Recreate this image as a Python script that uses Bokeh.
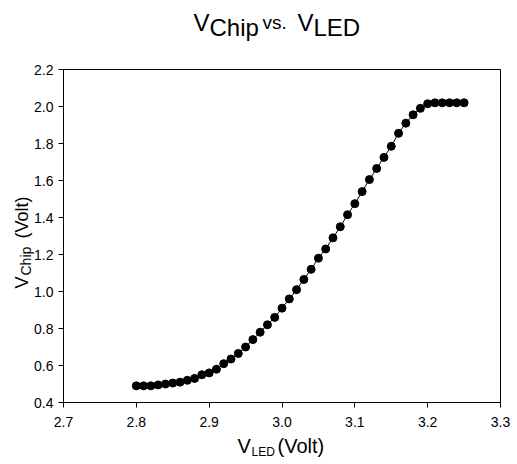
import math
from bokeh.plotting import figure
from bokeh.models import Range1d, FixedTicker, PrintfTickFormatter, Label
from bokeh.embed import file_html
from bokeh.resources import INLINE

# ---- data ----
v_led = [2.80, 2.81, 2.82, 2.83, 2.84, 2.85, 2.86, 2.87, 2.88, 2.89,
         2.90, 2.91, 2.92, 2.93, 2.94, 2.95, 2.96, 2.97, 2.98, 2.99,
         3.00, 3.01, 3.02, 3.03, 3.04, 3.05, 3.06, 3.07, 3.08, 3.09,
         3.10, 3.11, 3.12, 3.13, 3.14, 3.15, 3.16, 3.17, 3.18, 3.19,
         3.20, 3.21, 3.22, 3.23, 3.24, 3.25]
v_chip = [0.490, 0.490, 0.490, 0.495, 0.500, 0.505, 0.510, 0.520, 0.530, 0.550,
          0.560, 0.580, 0.610, 0.635, 0.665, 0.700, 0.740, 0.780, 0.820, 0.860,
          0.910, 0.960, 1.010, 1.065, 1.120, 1.180, 1.230, 1.290, 1.350, 1.415,
          1.475, 1.540, 1.605, 1.665, 1.725, 1.785, 1.855, 1.910, 1.955, 1.990,
          2.015, 2.020, 2.020, 2.020, 2.020, 2.020]
x_ticks = [2.7, 2.8, 2.9, 3.0, 3.1, 3.2, 3.3]
y_ticks = [0.4, 0.6, 0.8, 1.0, 1.2, 1.4, 1.6, 1.8, 2.0, 2.2]

FONT = "Liberation Sans"
W, H = 517, 464
# pixel box of the data area inside the canvas
BL, BR, BT, BB = 63, 500, 69, 402

x0, x1 = x_ticks[0], x_ticks[-1]
y0, y1 = y_ticks[0], y_ticks[-1]
kx = (x1 - x0) / (BR - BL)
ky = (y1 - y0) / (BB - BT)

p = figure(width=W, height=H, output_backend="svg", toolbar_location=None,
           x_range=Range1d(x0 - BL * kx, x1 + (W - BR) * kx),
           y_range=Range1d(y0 - (H - BB) * ky, y1 + BT * ky),
           min_border=0)

p.background_fill_color = "white"
p.border_fill_color = "white"
p.outline_line_color = None
p.xgrid.visible = False
p.ygrid.visible = False

for ax, ticks, loc in ((p.xaxis[0], x_ticks, y0), (p.yaxis[0], y_ticks, x0)):
    ax.fixed_location = loc
    ax.bounds = (ticks[0], ticks[-1])
    ax.ticker = FixedTicker(ticks=ticks)
    ax.formatter = PrintfTickFormatter(format="%.1f")
    ax.axis_line_color = "black"
    ax.axis_line_width = 1
    ax.major_tick_line_color = "black"
    ax.major_tick_out = 5
    ax.major_tick_in = 0
    ax.minor_tick_line_color = None
    ax.major_label_text_font = FONT
    ax.major_label_text_font_size = "14px"
    ax.major_label_text_color = "black"
p.xaxis[0].major_label_standoff = 9
p.yaxis[0].major_label_standoff = 5

# plot box (top and right edges)
p.quad(left=[x0], right=[x1], bottom=[y0], top=[y1],
       fill_color=None, line_color="black", line_width=1)

p.line(v_led, v_chip, line_color="black", line_width=1)
p.scatter(v_led, v_chip, size=8, fill_color="black", line_color="black")

OFF = 7  # measured shift of the rendered baseline


def lab(text, X, Y, size, angle=0.0):
    if angle:
        X -= OFF
    else:
        Y -= OFF
    p.add_layout(Label(x=X, y=H - Y, x_units="screen", y_units="screen",
                       text=text, text_font=FONT, text_font_size=f"{size}px",
                       text_color="black", text_align="left",
                       text_baseline="alphabetic", angle=angle))


# title: V_Chip vs. V_LED
lab("V", 193, 29, 24)
lab("Chip", 209, 34, 24)
lab("vs.", 262, 29, 19)
lab("V", 297, 29, 24)
lab("LED", 313, 34, 24)

# x axis label: V_LED (Volt)
lab("V", 237, 452, 20)
lab("LED", 251, 458, 12)
lab("(Volt)", 277, 452, 20)

# y axis label: V_Chip (Volt), rotated
rot = math.pi / 2
lab("V", 28, 288, 18, rot)
lab("Chip", 32, 275, 14, rot)
lab("(Volt)", 28, 238, 18, rot)

open("out.html", "w").write(file_html(p, INLINE))
